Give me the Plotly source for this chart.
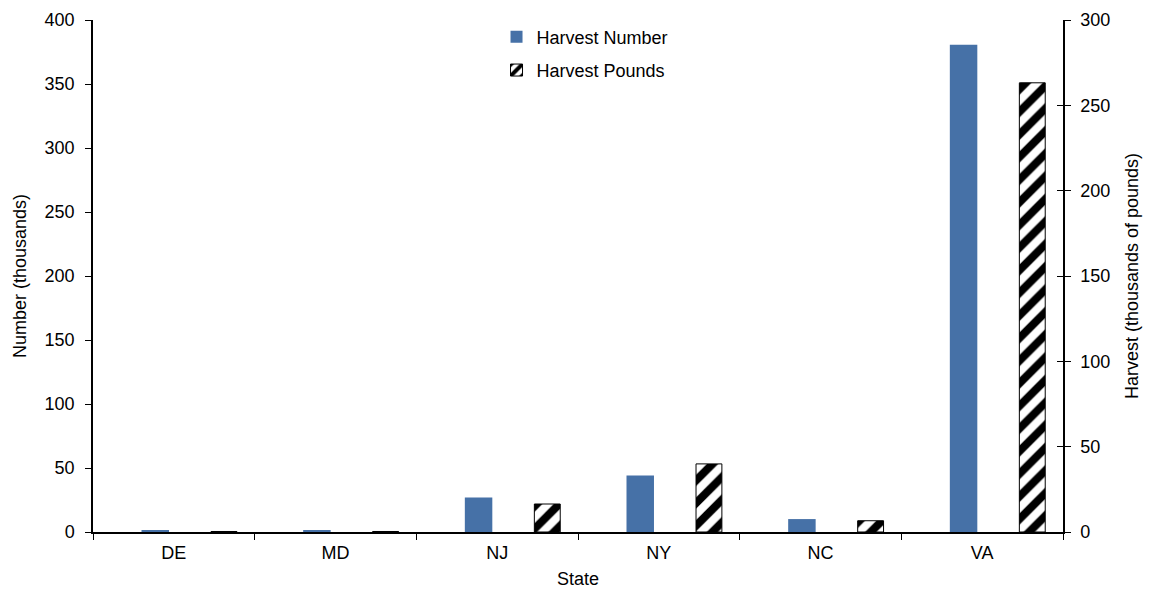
import plotly.graph_objects as go

states = ["DE", "MD", "NJ", "NY", "NC", "VA"]
harvest_number = [1.2, 1.2, 27.0, 44.1, 10.1, 380.7]      # thousands (left axis)
harvest_pounds = [0.3, 0.3, 16.4, 39.9, 6.6, 263.2]        # thousands of lbs (right axis)

FONT = "Liberation Sans, Arial, sans-serif"
BLUE = "#4671A7"

fig = go.Figure()
fig.add_trace(go.Bar(
    x=states, y=harvest_number, name="Harvest Number",
    marker=dict(color=BLUE, line=dict(width=0)),
    width=0.17, offset=-0.20, yaxis="y", legend="legend",
))
fig.add_trace(go.Bar(
    x=states, y=harvest_pounds, name="Harvest Pounds",
    marker=dict(color="white", line=dict(color="black", width=1),
                pattern=dict(shape="/", fgcolor="black", bgcolor="white",
                             fgopacity=1, fillmode="replace",
                             size=16, solidity=0.5)),
    width=0.16, offset=0.23, yaxis="y2", legend="legend2",
))

# page body has an 8px default margin -> figure is shifted; compensate
fig.update_layout(
    width=1143, height=581,
    margin=dict(l=85, r=88, t=11, b=57),
    paper_bgcolor="white", plot_bgcolor="white",
    font=dict(family=FONT, size=18, color="black"),
    barmode="overlay",
    showlegend=True,
    legend=dict(x=0.416, y=1.001, xanchor="left", yanchor="top",
                bgcolor="rgba(0,0,0,0)", font=dict(size=18)),
    legend2=dict(x=0.416, y=0.936, xanchor="left", yanchor="top",
                 bgcolor="rgba(0,0,0,0)", font=dict(size=18)),
    xaxis=dict(
        title=dict(text="State", standoff=12, font=dict(size=18)),
        showline=True, linecolor="black", linewidth=1.5,
        ticks="outside", ticklen=6, tickcolor="black",
        tickson="boundaries", showgrid=False, zeroline=False,
        tickfont=dict(size=18), automargin=False, ticklabelstandoff=4,
    ),
    yaxis=dict(
        title=dict(text="Number (thousands)", standoff=13, font=dict(size=18)),
        range=[0, 400], dtick=50,
        showline=True, linecolor="black", linewidth=1.5,
        ticks="outside", ticklen=6, tickcolor="black",
        showgrid=False, zeroline=False, tickfont=dict(size=18),
        automargin=False, ticklabelstandoff=7,
    ),
    yaxis2=dict(
        title=dict(text="Harvest (thousands of pounds)", standoff=16, font=dict(size=18)),
        overlaying="y", side="right", anchor="x",
        range=[0, 300], dtick=50,
        showline=True, linecolor="black", linewidth=1.5,
        ticks="outside", ticklen=6, tickcolor="black",
        showgrid=False, zeroline=False, tickfont=dict(size=18),
        automargin=False, ticklabelstandoff=6,
    ),
    yaxis3=dict(
        overlaying="y", side="right", anchor="x",
        range=[0, 300], dtick=50,
        showline=False, ticks="inside", ticklen=6, tickcolor="black",
        showticklabels=False, showgrid=False, zeroline=False,
        automargin=False,
    ),
)
# invisible helper trace to activate the inner tick marks of the right axis
fig.add_trace(go.Scatter(x=states, y=[None]*len(states), yaxis="y3",
                         showlegend=False, hoverinfo="skip"))

fig.write_html("out.html")
